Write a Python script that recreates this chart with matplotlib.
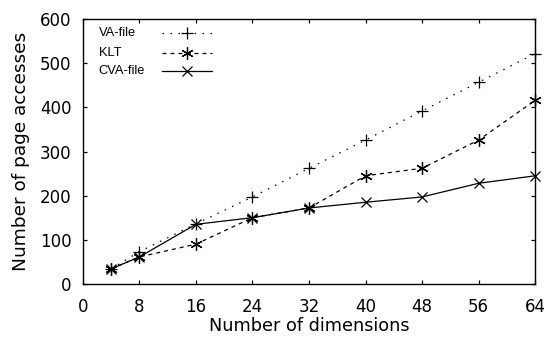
import matplotlib
matplotlib.use("Agg")
import matplotlib.pyplot as plt

dims = [4, 8, 16, 24, 32, 40, 48, 56, 64]
va_file = [34, 73, 136, 197, 262, 326, 392, 457, 522]
klt = [34, 61, 90, 150, 172, 245, 262, 326, 416]
cva_file = [34, 61, 135, 150, 172, 185, 197, 228, 245]
series_names = ['VA-file', 'KLT', 'CVA-file']
xticks = [0, 8, 16, 24, 32, 40, 48, 56, 64]
yticks = [0, 100, 200, 300, 400, 500, 600]

plt.rcParams['font.family'] = ['DejaVu Sans']

styles = [
    dict(linestyle=(0, (1.2, 5.2)), marker='+', markersize=8.5),
    dict(linestyle=(0, (3.2, 3.2)), marker=(6, 2, 0), markersize=9),
    dict(linestyle='-', marker='x', markersize=7.5),
]

fig = plt.figure(figsize=(5.45, 3.42), dpi=100)
ax = fig.add_axes([0.152, 0.170, 0.830, 0.774])

for vals, name, st in zip([va_file, klt, cva_file], series_names, styles):
    ax.plot(dims, vals, color='black', linewidth=0.9, markeredgewidth=0.9,
            clip_on=False, **st)

ax.set_xlim(0, 64)
ax.set_ylim(0, 600)
ax.set_xticks(xticks)
ax.set_yticks(yticks)
ax.tick_params(direction='in', top=True, right=True, length=3, width=0.9,
               labelsize=12, pad=8)
ax.tick_params(axis='x', pad=10)
for s in ax.spines.values():
    s.set_linewidth(1.0)
ax.set_xlabel('Number of dimensions', fontsize=12.7, labelpad=1)
ax.set_ylabel('Number of page accesses', fontsize=13.3, labelpad=7)

# gnuplot-style key: text left, sample right
key_y = [0.947, 0.872, 0.804]
for name, st, ky in zip(series_names, styles, key_y):
    ax.text(0.035, ky, name, transform=ax.transAxes, fontsize=9.3,
            ha='left', va='center', family='Liberation Sans')
    ax.plot([0.175, 0.285], [ky, ky], transform=ax.transAxes, color='black',
            linewidth=0.9, linestyle=st['linestyle'])
    ax.plot([0.23], [ky], transform=ax.transAxes, color='black',
            marker=st['marker'], markersize=st['markersize'],
            markeredgewidth=0.9, linestyle='none')

fig.savefig('out.png', dpi=100)
